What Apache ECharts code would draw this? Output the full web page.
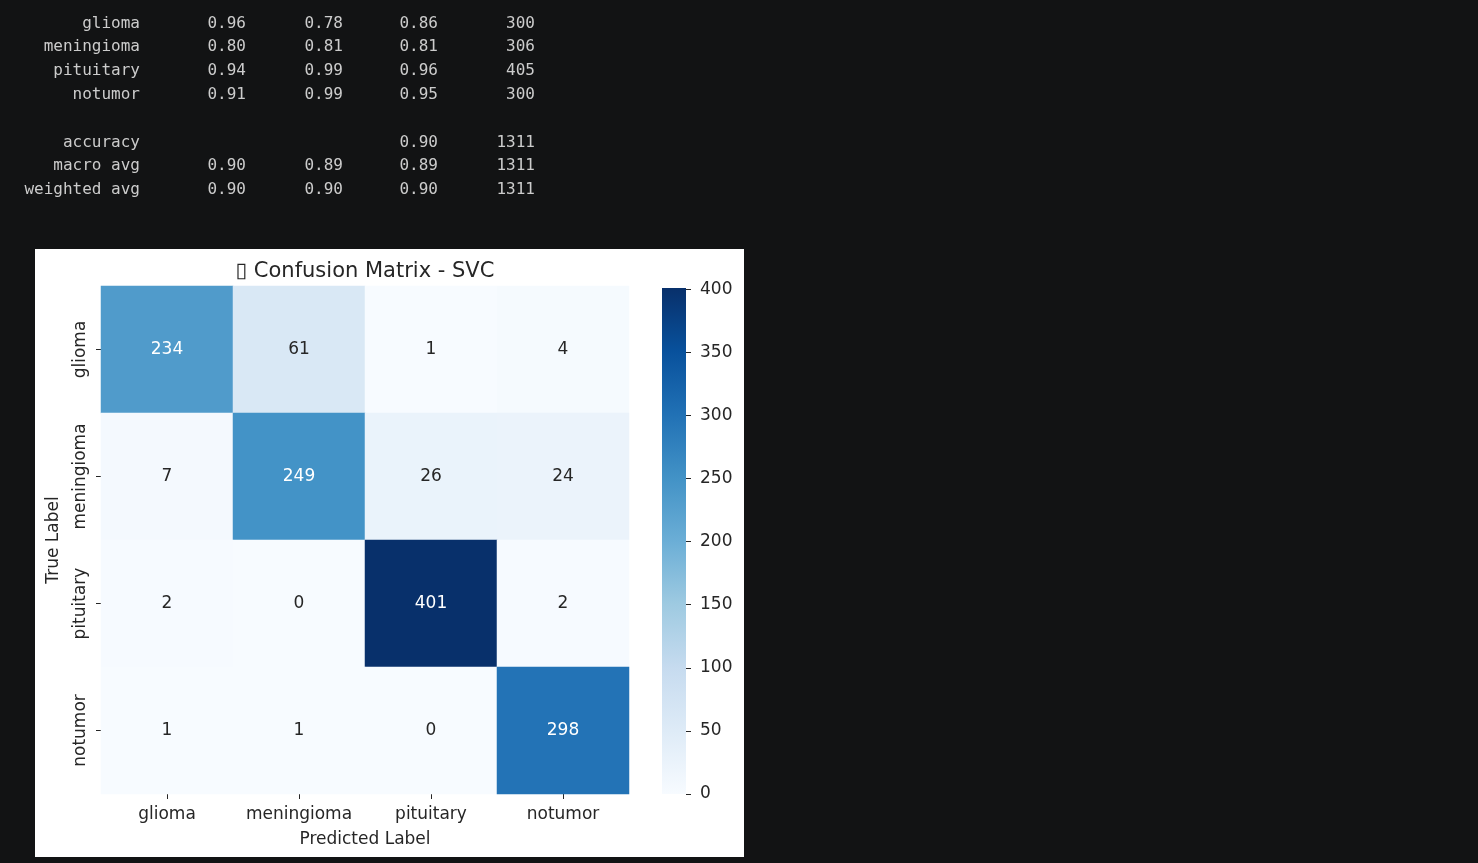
<!DOCTYPE html>
<html>
<head>
<meta charset="utf-8">
<script src="https://cdn.jsdelivr.net/npm/echarts@6/dist/echarts.min.js"></script>
<style>
html,body{margin:0;padding:0;background:#121314;}
#c{width:1478px;height:863px;}
</style>
</head>
<body>
<div id="c"></div>
<script>
// ---- data ----
const classLabels = ['glioma', 'meningioma', 'pituitary', 'notumor'];
const precision = [0.96, 0.80, 0.94, 0.91];
const recall = [0.78, 0.81, 0.99, 0.99];
const f1score = [0.86, 0.81, 0.96, 0.95];
const support = [300, 306, 405, 300];
const summaryLabels = ['accuracy', 'macro avg', 'weighted avg'];
const summaryPrecision = [null, 0.90, 0.90];
const summaryRecall = [null, 0.89, 0.90];
const summaryF1 = [0.90, 0.89, 0.90];
const summarySupport = [1311, 1311, 1311];
const confusion = [
  [234, 61, 1, 4],
  [7, 249, 26, 24],
  [2, 0, 401, 2],
  [1, 1, 0, 298]
];
const colorbarTicks = [0, 50, 100, 150, 200, 250, 300, 350, 400];
const colorMin = 0;
const colorMax = 401;
const titleText = '\u25AF Confusion Matrix - SVC';

// ---- style ----
const blues = ['#f7fbff', '#deebf7', '#c6dbef', '#9ecae1', '#6baed6', '#4292c6', '#2171b5', '#08519c', '#08306b'];
const ink = '#262626';
const font = 'DejaVu Sans';
const whiteTextAbove = 200;

// report text
const colRight = [140, 246, 343, 438, 535];
const rowY0 = 23.5, rowStep = 23.8;
const graphics = [{
  type: 'rect', z: -10,
  shape: { x: 35, y: 249, width: 709, height: 608 },
  style: { fill: '#ffffff' }
}];
function fmt(v) { return v === null ? '' : v.toFixed(2); }
function addRow(idx, cells) {
  cells.forEach((t, j) => {
    if (t === '') return;
    graphics.push({
      type: 'text', x: colRight[j], y: rowY0 + idx * rowStep,
      style: { text: t, fill: '#cccccc', font: '16px "DejaVu Sans Mono"', align: 'right', verticalAlign: 'middle' }
    });
  });
}
classLabels.forEach((l, i) => addRow(i, [l, fmt(precision[i]), fmt(recall[i]), fmt(f1score[i]), String(support[i])]));
summaryLabels.forEach((l, i) => addRow(classLabels.length + 1 + i,
  [l, fmt(summaryPrecision[i]), fmt(summaryRecall[i]), fmt(summaryF1[i]), String(summarySupport[i])]));

// heatmap data
const heatData = [];
confusion.forEach((row, yi) => row.forEach((v, xi) => {
  heatData.push({ value: [xi, yi, v], label: { color: v > whiteTextAbove ? '#ffffff' : ink } });
}));

const chart = echarts.init(document.getElementById('c'));
chart.setOption({
  backgroundColor: '#121314',
  animation: false,
  textStyle: { fontFamily: font },
  title: {
    text: titleText, left: 365, top: 261, textAlign: 'center', padding: 0,
    textStyle: { fontSize: 21, fontWeight: 'normal', color: ink, fontFamily: font }
  },
  graphic: graphics,
  grid: [
    { left: 101, top: 286, width: 528, height: 508 },
    { left: 662, top: 288, width: 24, height: 506 }
  ],
  xAxis: [{
    type: 'category', gridIndex: 0, data: classLabels, position: 'bottom',
    axisLine: { show: false },
    axisTick: { show: true, alignWithLabel: true, length: 5, lineStyle: { color: ink } },
    axisLabel: { fontSize: 17, color: ink, margin: 12, interval: 0, fontFamily: font },
    splitLine: { show: false }, splitArea: { show: false },
    name: 'Predicted Label', nameLocation: 'middle', nameGap: 37,
    nameTextStyle: { fontSize: 17, color: ink, fontFamily: font }
  }, {
    type: 'category', gridIndex: 1, data: ['cb'], show: false
  }],
  yAxis: [{
    type: 'category', gridIndex: 0, data: classLabels, inverse: true,
    axisLine: { show: false },
    axisTick: { show: true, alignWithLabel: true, length: 5, lineStyle: { color: ink } },
    axisLabel: { fontSize: 17, color: ink, margin: 12, rotate: 90, interval: 0, fontFamily: font },
    splitLine: { show: false }, splitArea: { show: false },
    name: 'True Label', nameLocation: 'middle', nameGap: 39,
    nameTextStyle: { fontSize: 17, color: ink, fontFamily: font }
  }, {
    type: 'value', gridIndex: 1, position: 'right', min: colorMin, max: colorMax,
    axisLine: { show: false },
    splitLine: { show: false },
    axisTick: { show: true, length: 5, lineStyle: { color: ink }, customValues: colorbarTicks },
    axisLabel: { fontSize: 17, color: ink, margin: 14, fontFamily: font, customValues: colorbarTicks }
  }],
  visualMap: {
    show: false, seriesIndex: 0, min: colorMin, max: colorMax, dimension: 2,
    inRange: { color: blues }
  },
  series: [{
    type: 'heatmap', xAxisIndex: 0, yAxisIndex: 0, data: heatData,
    label: { show: true, fontSize: 17, fontFamily: font },
    itemStyle: { borderWidth: 0 },
    emphasis: { disabled: true }
  }, {
    type: 'bar', xAxisIndex: 1, yAxisIndex: 1, data: [colorMax],
    barWidth: '100%', silent: true,
    itemStyle: {
      color: new echarts.graphic.LinearGradient(0, 0, 0, 1,
        blues.slice().reverse().map((c, i) => ({ offset: i / (blues.length - 1), color: c })))
    }
  }]
});
</script>
</body>
</html>
